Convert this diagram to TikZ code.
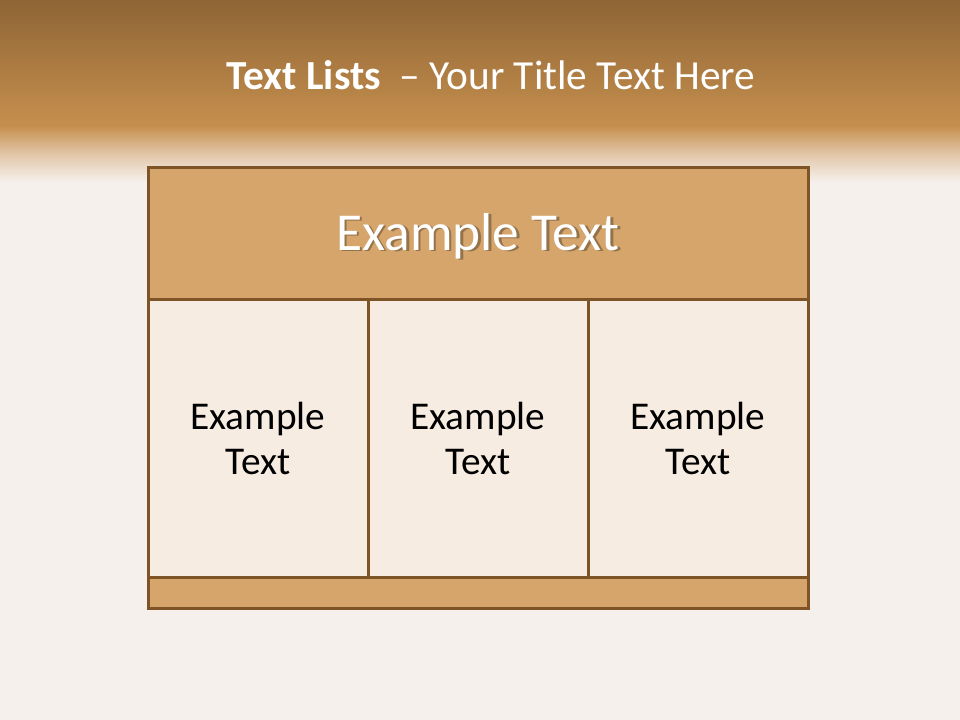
\documentclass[tikz,border=0pt]{standalone}
\usepackage{fontspec}
\setmainfont{Carlito}
\usetikzlibrary{positioning,calc}
\definecolor{barTop}{HTML}{8E6535}
\definecolor{barMid}{HTML}{C68F4E}
\definecolor{fadeMid}{HTML}{E2C6A8}
\definecolor{pageBg}{HTML}{F5F0EC}
\definecolor{frameLine}{HTML}{7E5427}
\definecolor{headFill}{HTML}{D5A56C}
\definecolor{cellFill}{HTML}{F7ECE2}
\begin{document}
\begin{tikzpicture}[
    x=0.75pt, y=-0.75pt,
    box/.style={draw=frameLine, line width=2.25pt, inner sep=0pt, outer sep=0pt, text=black},
    cell/.style={box, fill=cellFill, minimum width=165pt, minimum height=207.75pt, align=center, font=\fontsize{29.5}{34}\selectfont},
    band/.style={box, fill=headFill, minimum width=495pt},
    headtext/.style={font=\fontsize{40}{46}\selectfont},
]
% background
\fill[pageBg] (0,0) rectangle (960,720);
\shade[top color=barTop, bottom color=barMid] (0,0) rectangle (960,126);
\shade[top color=barMid, bottom color=pageBg, middle color=fadeMid] (0,126) rectangle (960,182);
\useasboundingbox (0,0) rectangle (960,720);

% title
\node[text=white, font=\fontsize{31}{36}\selectfont] (title) at (491,75) {\textbf{Text Lists}\ \ – Your Title Text Here};

% table
\node[band, minimum height=99pt] (head) at (478,234) {};
\node[headtext, text=black, opacity=0.3] (headshadow) at (480.5,237.5) {Example Text};
\node[headtext, text=white] (headlabel) at (478,236) {Example Text};

\node[cell] (c1) at (258,438.5) {Example\\Text};
\node[cell] (c2) at (478,438.5) {Example\\Text};
\node[cell] (c3) at (698,438.5) {Example\\Text};

\node[band, minimum height=23.25pt] (foot) at (478,592.5) {};
\end{tikzpicture}
\end{document}
